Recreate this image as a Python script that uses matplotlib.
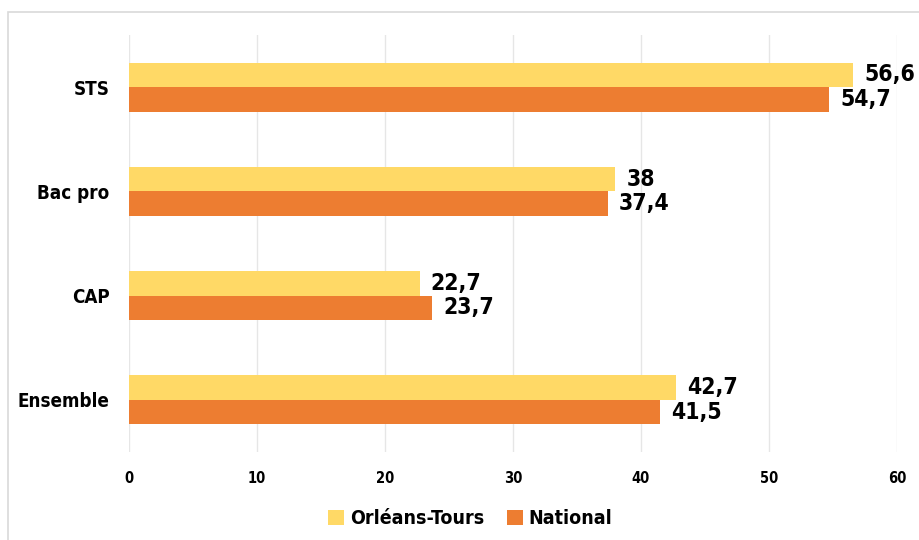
import numpy as np
import matplotlib.pyplot as plt
from matplotlib.patches import Rectangle

categories = ["STS", "Bac pro", "CAP", "Ensemble"]
orleans = [56.6, 38, 22.7, 42.7]
national = [54.7, 37.4, 23.7, 41.5]
series_names = ["Orléans-Tours", "National"]
xticks = [0, 10, 20, 30, 40, 50, 60]

yellow = "#FFD966"
orange = "#ED7D31"

plt.rcParams['font.family'] = ['DejaVu Sans']
plt.rcParams['font.stretch'] = 'condensed'
plt.rcParams['font.weight'] = 'bold'

fig = plt.figure(figsize=(9.19, 5.4), dpi=100)
ax = fig.add_axes([0.1404, 0.163, 0.8356, 0.772])

# chart border (cut at right and bottom)
fig.patches.append(Rectangle((8 / 919, -0.1), 1.2, 1 - 12 / 540 + 0.1,
                             transform=fig.transFigure, fill=False,
                             edgecolor="#d9d9d9", linewidth=1.2))

y = np.arange(len(categories))
h = 0.235
ax.barh(y - h / 2, orleans, height=h, color=yellow, label=series_names[0], zorder=3)
ax.barh(y + h / 2, national, height=h, color=orange, label=series_names[1], zorder=3)

for yi, v in zip(y, orleans):
    ax.annotate(f"{v:g}".replace(".", ","), (v, yi - h / 2), xytext=(8, 0),
                textcoords="offset points", va="center", ha="left",
                fontsize=16.5, fontweight="bold")
for yi, v in zip(y, national):
    ax.annotate(f"{v:g}".replace(".", ","), (v, yi + h / 2), xytext=(8, 0),
                textcoords="offset points", va="center", ha="left",
                fontsize=16.5, fontweight="bold")

ax.set_xlim(0, 60)
ax.set_ylim(3.5, -0.5)
ax.set_xticks(xticks)
ax.set_xticklabels([str(t) for t in xticks], fontsize=10.5, fontweight="bold")
ax.set_yticks(y)
ax.set_yticklabels(categories, fontsize=13.5, fontweight="bold")
ax.tick_params(axis="both", length=0)
ax.tick_params(axis="x", pad=14)
ax.tick_params(axis="y", pad=14)
ax.grid(axis="x", color="#e6e6e6", linewidth=1, zorder=0)
for s in ax.spines.values():
    s.set_visible(False)

fig.legend(loc="center", bbox_to_anchor=(0.512, 0.04), ncol=2, frameon=False,
           handlelength=0.8, handleheight=0.8, handletextpad=0.3,
           columnspacing=1.2, prop={'weight': 'bold', 'size': 14, 'stretch': 'condensed'})

fig.savefig("out.png", dpi=100)
